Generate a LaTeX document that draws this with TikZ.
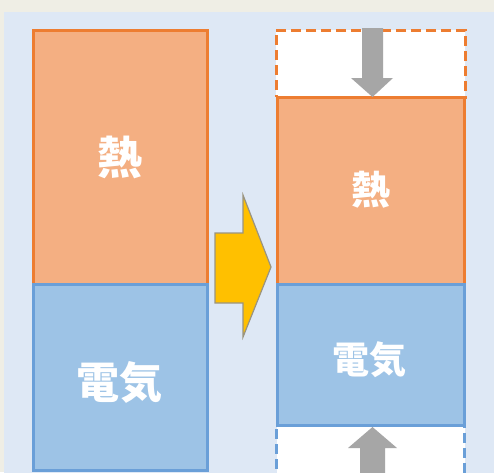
\documentclass[tikz,border=0pt]{standalone}
\usepackage{fontspec}
\newfontfamily\cjk{Noto Sans CJK JP}
\definecolor{outerbg}{HTML}{EFEEE5}
\definecolor{panelbg}{HTML}{DEE8F5}
\definecolor{orfill}{HTML}{F4AF82}
\definecolor{orline}{HTML}{ED7D31}
\definecolor{blfill}{HTML}{9DC3E6}
\definecolor{blline}{HTML}{6A9FD8}
\definecolor{arrgray}{HTML}{A6A6A6}
\definecolor{arryel}{HTML}{FFC000}
\definecolor{arredge}{HTML}{9A9480}
\tikzset{
  heatbox/.style={draw=orline, fill=orfill, line width=3pt, inner sep=0pt},
  elecbox/.style={draw=blline, fill=blfill, line width=3pt, inner sep=0pt},
  spacebox/.style={fill=white, line width=3pt, dash pattern=on 10pt off 5pt, inner sep=0pt},
  lbl/.style={text=white, font=\cjk\bfseries},
}
\begin{document}
\begin{tikzpicture}[x=1pt, y=-1pt]
\useasboundingbox (0,0) rectangle (494,472);
\clip (0,0) rectangle (494,472);
\fill[outerbg] (0,0) rectangle (494,472);
\fill[panelbg] (4,12) rectangle (500,480);
% left column
\node[heatbox, minimum width=174pt, minimum height=254pt] (lheat) at (120,157) {};
\node[elecbox, minimum width=174pt, minimum height=186pt] (lelec) at (120,377) {};
\node[lbl, font=\cjk\bfseries\fontsize{45}{45}\selectfont] (lheatt) at (120,157) {熱};
\node[lbl, font=\cjk\bfseries\fontsize{43}{43}\selectfont] (lelect) at (119,382) {電気};
% right column
\node[spacebox, draw=orline, minimum width=189pt, minimum height=67pt] (rtop) at (370.5,63.5) {};
\node[spacebox, draw=blline, minimum width=188pt, minimum height=70pt] (rbot) at (370.5,460) {};
\node[heatbox, minimum width=187pt, minimum height=187pt] (rheat) at (370.5,190.5) {};
\node[elecbox, minimum width=187pt, minimum height=141pt] (relec) at (370.5,354.5) {};
\node[lbl, font=\cjk\bfseries\fontsize{39}{39}\selectfont] (rheatt) at (371,190) {熱};
\node[lbl, font=\cjk\bfseries\fontsize{37}{37}\selectfont] (relect) at (369,360) {電気};
% grey arrows
\fill[arrgray] (362,28) -- (383,28) -- (383,78) -- (393,78) -- (372.5,97) -- (351,78) -- (362,78) -- cycle;
\fill[arrgray] (360,475) -- (385,475) -- (385,448) -- (397,448) -- (372.5,427) -- (348,448) -- (360,448) -- cycle;
% yellow arrow
\filldraw[fill=arryel, draw=arredge, line width=1.2pt, line join=miter]
  (215,233) -- (243,233) -- (243,195) -- (271,267) -- (243,337) -- (243,303) -- (215,303) -- cycle;
\end{tikzpicture}
\end{document}
